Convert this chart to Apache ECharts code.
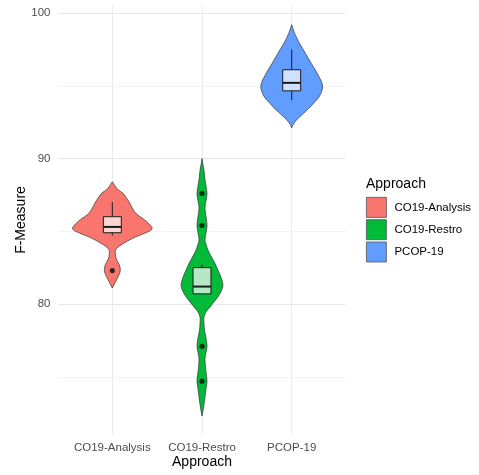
<!DOCTYPE html>
<html>
<head>
<meta charset="utf-8">
<script src="https://cdn.jsdelivr.net/npm/echarts@6/dist/echarts.min.js"></script>
<style>
  html, body { margin: 0; padding: 0; background: #ffffff; }
  #chart { width: 479px; height: 475px; }
</style>
</head>
<body>
<div id="chart"></div>
<script>
// Approaches compared
const categories = ['CO19-Analysis', 'CO19-Restro', 'PCOP-19'];
const colors = ['#F8766D', '#00BA38', '#619CFF'];
const boxFills = ['#FDD6D3', '#B5E8C4', '#D0E1FF'];

// Kernel density profiles: [F-Measure, half width in category units]
const densityAnalysis = [
  [81.1, 0], [81.5, 0.033], [81.9, 0.067], [82.3, 0.089], [82.7, 0.078], [83.1, 0.044],
  [83.5, 0.033], [83.8, 0.044], [84.2, 0.133], [84.6, 0.256], [85.0, 0.411], [85.2, 0.444],
  [85.5, 0.411], [85.8, 0.356], [86.2, 0.267], [86.6, 0.222], [87.0, 0.189], [87.3, 0.156],
  [87.6, 0.122], [87.9, 0.056], [88.2, 0.022], [88.4, 0]
];
const densityRestro = [
  [72.3, 0], [73.0, 0.02], [73.6, 0.033], [74.2, 0.045], [74.7, 0.056], [75.3, 0.045],
  [76.2, 0.033], [76.7, 0.045], [77.1, 0.056], [77.7, 0.044], [78.2, 0.028], [78.7, 0.022],
  [79.1, 0.022], [79.5, 0.05], [79.8, 0.089], [80.2, 0.14], [80.5, 0.178], [80.9, 0.215],
  [81.3, 0.233], [81.85, 0.211], [82.3, 0.18], [82.8, 0.144], [83.3, 0.1], [83.7, 0.067],
  [84.1, 0.045], [84.4, 0.033], [84.9, 0.045], [85.4, 0.056], [86.0, 0.045], [86.6, 0.033],
  [87.1, 0.045], [87.6, 0.056], [88.1, 0.045], [88.7, 0.03], [89.2, 0.022], [89.6, 0.01], [90.0, 0]
];
const densityPcop = [
  [92.1, 0], [92.4, 0.022], [92.8, 0.078], [93.3, 0.167], [93.8, 0.244], [94.3, 0.311],
  [95.0, 0.344], [95.8, 0.289], [96.5, 0.222], [97.2, 0.156], [97.9, 0.089], [98.6, 0.033],
  [99.2, 0]
];

// Box summaries: [lower whisker, Q1, median, Q3, upper whisker]
const boxAnalysis = [84.7, 84.9, 85.3, 86.0, 87.0];
const boxRestro = [80.7, 80.7, 81.2, 82.5, 82.7];
const boxPcop = [94.0, 94.65, 95.2, 96.1, 97.5];

// Outlying observations
const outliersAnalysis = [82.3];
const outliersRestro = [87.6, 85.4, 77.1, 74.7];
const outliersPcop = [];

// Axis ticks
const yMajorTicks = [80, 90, 100];
const yGridTicks = [75, 80, 85, 90, 95, 100];

const densities = [densityAnalysis, densityRestro, densityPcop];
const boxes = [boxAnalysis, boxRestro, boxPcop];
const outliers = [outliersAnalysis, outliersRestro, outliersPcop];

const BOX_HALF = 0.1;

function renderGroup(idx) {
  return function (params, api) {
    const pos = idx + 1;
    const dens = densities[idx];
    const right = dens.map(d => api.coord([pos + d[1], d[0]]));
    const left = dens.slice().reverse().map(d => api.coord([pos - d[1], d[0]]));
    const children = [];
    children.push({
      type: 'polygon',
      shape: { points: right.concat(left), smooth: 0.35 },
      style: { fill: colors[idx], stroke: '#333333', lineWidth: 0.7 }
    });
    const b = boxes[idx];
    const lw = api.coord([pos, b[0]]);
    const q1 = api.coord([pos, b[1]]);
    const med = api.coord([pos, b[2]]);
    const q3 = api.coord([pos, b[3]]);
    const uw = api.coord([pos, b[4]]);
    const xl = api.coord([pos - BOX_HALF, b[2]])[0];
    const xr = api.coord([pos + BOX_HALF, b[2]])[0];
    children.push({
      type: 'line',
      shape: { x1: uw[0], y1: uw[1], x2: q3[0], y2: q3[1] },
      style: { stroke: '#1a1a1a', lineWidth: 1 }
    });
    children.push({
      type: 'line',
      shape: { x1: q1[0], y1: q1[1], x2: lw[0], y2: lw[1] },
      style: { stroke: '#1a1a1a', lineWidth: 1 }
    });
    children.push({
      type: 'rect',
      shape: { x: xl, y: q3[1], width: xr - xl, height: q1[1] - q3[1] },
      style: { fill: boxFills[idx], stroke: '#1a1a1a', lineWidth: 1 }
    });
    children.push({
      type: 'line',
      shape: { x1: xl, y1: med[1], x2: xr, y2: med[1] },
      style: { stroke: '#1a1a1a', lineWidth: 2 }
    });
    outliers[idx].forEach(v => {
      const p = api.coord([pos, v]);
      children.push({
        type: 'circle',
        shape: { cx: p[0], cy: p[1], r: 2.6 },
        style: { fill: 'rgba(20,20,20,0.85)' }
      });
    });
    return { type: 'group', children: children };
  };
}

const chart = echarts.init(document.getElementById('chart'), null, { renderer: 'canvas' });

const series = categories.map((name, idx) => ({
  name: name,
  type: 'custom',
  renderItem: renderGroup(idx),
  itemStyle: { color: colors[idx] },
  data: [[idx + 1, boxes[idx][2]]],
  encode: { x: 0, y: 1 },
  clip: false,
  silent: true
}));

chart.setOption({
  animation: false,
  backgroundColor: '#ffffff',
  textStyle: { fontFamily: 'Liberation Sans, Arial, sans-serif' },
  grid: { left: 58.5, right: 133.5, top: 5, bottom: 40, containLabel: false, outerBoundsMode: 'none' },
  title: {
    text: 'Approach',
    left: 366,
    top: 177,
    padding: 0,
    textStyle: { fontSize: 14, fontWeight: 'normal', color: '#000000', fontFamily: 'Liberation Sans, Arial, sans-serif' }
  },
  legend: {
    orient: 'vertical',
    left: 366,
    top: 197,
    padding: 0,
    itemWidth: 20,
    itemHeight: 20,
    itemGap: 1.5,
    icon: 'rect',
    itemStyle: { borderColor: '#555555', borderWidth: 0.8 },
    textStyle: { fontSize: 11.5, color: '#000000', padding: [0, 0, 0, 3] },
    data: categories
  },
  xAxis: {
    type: 'value',
    min: 0.4,
    max: 3.6,
    name: 'Approach',
    nameLocation: 'middle',
    nameGap: 20,
    nameMoveOverlap: false,
    nameTextStyle: { fontSize: 14, color: '#000000' },
    axisLine: { show: false },
    axisTick: { show: false, customValues: [1, 2, 3] },
    axisLabel: {
      customValues: [1, 2, 3],
      formatter: v => categories[Math.round(v) - 1],
      fontSize: 11.5,
      color: '#4D4D4D',
      margin: 7
    },
    splitLine: { show: true, lineStyle: { color: '#EBEBEB', width: 1 } }
  },
  yAxis: {
    type: 'value',
    min: 71.0,
    max: 100.55,
    name: 'F-Measure',
    nameLocation: 'middle',
    nameGap: 30,
    nameMoveOverlap: false,
    nameRotate: 90,
    nameTextStyle: { fontSize: 14, color: '#000000' },
    axisLine: { show: false },
    axisTick: { show: false, customValues: yGridTicks },
    axisLabel: {
      customValues: yMajorTicks,
      fontSize: 11.5,
      color: '#4D4D4D',
      margin: 8
    },
    splitLine: { show: true, lineStyle: { color: ['#F3F3F3', '#E6E6E6'], width: 1 } }
  },
  series: series
});
</script>
</body>
</html>
